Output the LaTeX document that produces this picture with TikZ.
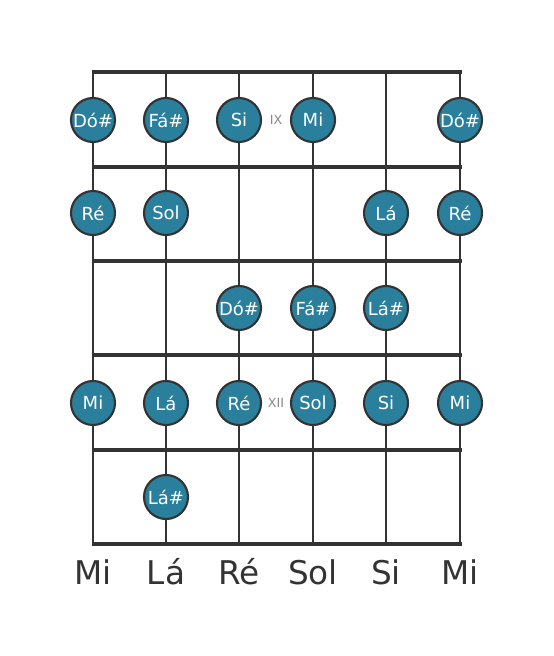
\documentclass[tikz,border=0pt]{standalone}
\usepackage{fontspec}
\setmainfont{DejaVu Sans}
\definecolor{notefill}{RGB}{42,128,156}
\definecolor{boardline}{RGB}{51,51,51}
\definecolor{fretmark}{RGB}{136,136,136}
\tikzset{every picture/.style={line width=0.75pt}}
\tikzset{
  fretline/.style={draw=boardline, line width=3.6pt},
  stringline/.style={draw=boardline, line width=2.2pt},
  note/.style={circle, draw=boardline, line width=1.6pt, fill=notefill, text=white,
    minimum size=33pt, inner sep=0pt, font=\fontsize{13.5}{13.5}\selectfont},
  fretnum/.style={text=fretmark, inner sep=0.75pt, font=\fontsize{9.5}{9.5}\selectfont},
  tuning/.style={text=boardline, inner sep=0.75pt, font=\fontsize{24.5}{24.5}\selectfont}
}

\begin{document}
\begin{tikzpicture}[x=0.75pt,y=0.75pt,yscale=-1,xscale=1]
\useasboundingbox (0,0) rectangle (553,656);

%Strings
\draw [stringline] (93,72) -- (93,544) ;
\draw [stringline] (166,72) -- (166,544) ;
\draw [stringline] (239,72) -- (239,544) ;
\draw [stringline] (313,72) -- (313,544) ;
\draw [stringline] (386,72) -- (386,544) ;
\draw [stringline] (460,72) -- (460,544) ;

%Frets
\draw [fretline] (91.5,72) -- (461.5,72) ;
\draw [fretline] (91.5,167) -- (461.5,167) ;
\draw [fretline] (91.5,261) -- (461.5,261) ;
\draw [fretline] (91.5,355) -- (461.5,355) ;
\draw [fretline] (91.5,450) -- (461.5,450) ;
\draw [fretline] (91.5,544) -- (461.5,544) ;

% Fret markers
\node [fretnum] (ix) at (276,120) {IX};
\node [fretnum] (xii) at (276,403) {XII};

% Notes, first row
\node [note] (dos1) at (93,120) {Dó\#};
\node [note] (fas1) at (166,120) {Fá\#};
\node [note] (si1) at (239,120) {Si};
\node [note] (mi1) at (313,120) {Mi};
\node [note] (dos2) at (460,120) {Dó\#};
% Notes, second row
\node [note] (re1) at (93,213) {Ré};
\node [note] (sol1) at (166,213) {Sol};
\node [note] (la1) at (386,213) {Lá};
\node [note] (re2) at (460,213) {Ré};
% Notes, third row
\node [note] (dos3) at (239,308) {Dó\#};
\node [note] (fas2) at (313,308) {Fá\#};
\node [note] (las1) at (386,308) {Lá\#};
% Notes, fourth row
\node [note] (mi2) at (93,403) {Mi};
\node [note] (la2) at (166,403) {Lá};
\node [note] (re3) at (239,403) {Ré};
\node [note] (sol2) at (313,403) {Sol};
\node [note] (si2) at (386,403) {Si};
\node [note] (mi3) at (460,403) {Mi};
% Notes, fifth row
\node [note] (las2) at (166,497) {Lá\#};

% Tuning
\node [tuning] (tmi1) at (93,572) {Mi};
\node [tuning] (tla) at (166,572) {Lá};
\node [tuning] (tre) at (239,572) {Ré};
\node [tuning] (tsol) at (313,572) {Sol};
\node [tuning] (tsi) at (386,572) {Si};
\node [tuning] (tmi2) at (460,572) {Mi};

\end{tikzpicture}
\end{document}
